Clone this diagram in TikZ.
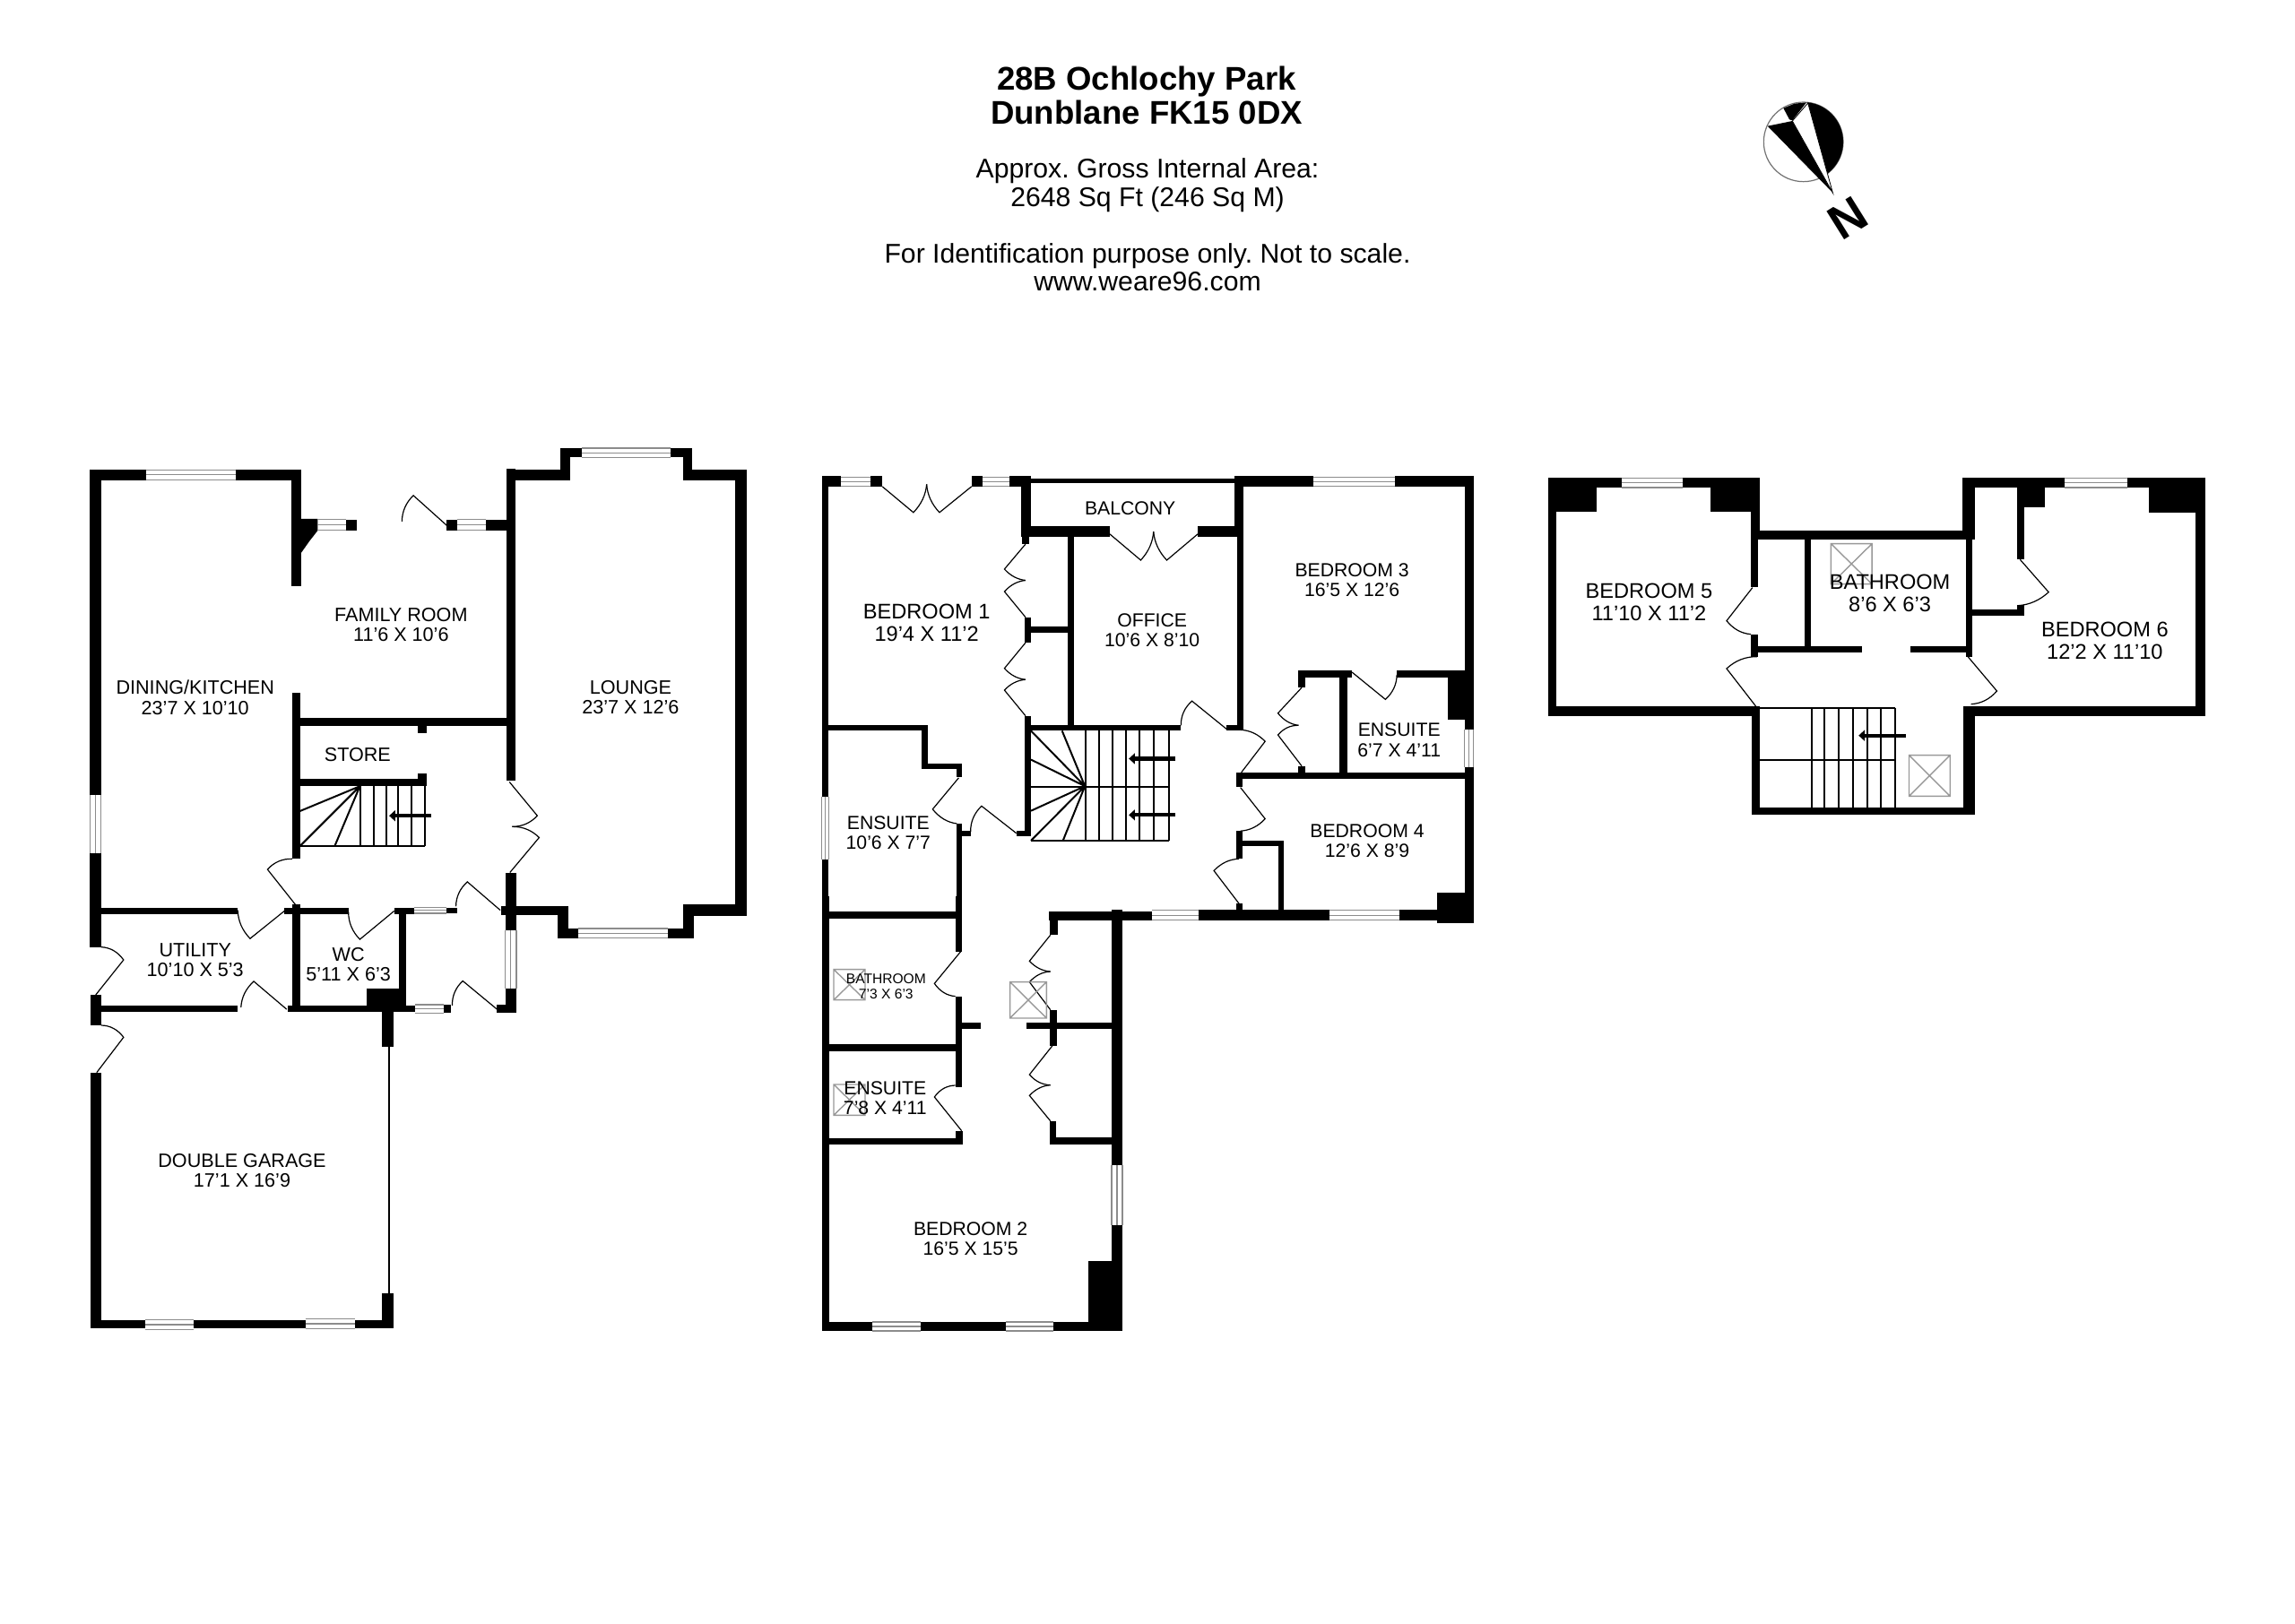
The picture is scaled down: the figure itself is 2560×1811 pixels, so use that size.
\documentclass[tikz,border=0pt]{standalone}
\usepackage{fontspec}
\setmainfont{Liberation Sans}
\usetikzlibrary{calc,arrows.meta}
\frenchspacing
\newcommand{\Wl}[2]{\fill[black] (#1) rectangle (#2);}
\newcommand{\Wh}[4]{\draw[winline] (#1,#2)--(#3,#2) (#1,{(#2+#4)/2})--(#3,{(#2+#4)/2}) (#1,#4)--(#3,#4);}
\newcommand{\Wv}[4]{\draw[winline] (#1,#2)--(#1,#4) ({(#1+#3)/2},#2)--({(#1+#3)/2},#4) (#3,#2)--(#3,#4);}
\newcommand{\Dr}[3]{\draw[doorline] (#1) -- (#2) .. controls ($0.7133*(#2)+0.38*(#3)-0.0933*(#1)$) and ($0.7133*(#3)+0.38*(#2)-0.0933*(#1)$) .. (#3);}
\newcommand{\Sky}[4]{\draw[skyline] (#1,#2) rectangle (#3,#4) (#1,#2)--(#3,#4) (#1,#4)--(#3,#2);}
\newcommand{\Lb}[4]{\node[#1] (#2) at (#3) {#4};}
\tikzset{
  winline/.style={line width=0.3pt,draw=black!45},
  doorline/.style={line width=0.3pt,draw=black},
  skyline/.style={line width=0.35pt,draw=black!40},
  treadline/.style={line width=0.5pt,draw=black},
  stairarrow/.style={line width=1.05pt,draw=black,-{Triangle[length=1.7pt,width=3pt]}},
  labbase/.style={inner sep=0pt,align=center,text=black,yshift=-0.3pt},
  labM/.style={labbase,font=\fontsize{5.4pt}{5.6pt}\selectfont},
  labN/.style={labbase,font=\fontsize{5.3pt}{5.6pt}\selectfont},
  labG/.style={labbase,font=\fontsize{5.4pt}{5.6pt}\selectfont},
  labL/.style={labbase,font=\fontsize{5.9pt}{6.25pt}\selectfont},
  labS/.style={labbase,font=\fontsize{3.9pt}{4.2pt}\selectfont},
  headbold/.style={inner sep=0pt,anchor=base,font=\fontsize{9.15pt}{9.5pt}\selectfont\bfseries},
  headtext/.style={inner sep=0pt,anchor=base,font=\fontsize{7.55pt}{8pt}\selectfont},
  zA/.style={shift={(80,480)},x=0.12755pt,y=-0.10841pt},
  zB/.style={shift={(80,1000)},x=0.08929pt,y=-0.08333pt},
  zC/.style={shift={(900,510)},x=0.12755pt,y=-0.08929pt},
  zD/.style={shift={(900,1000)},x=0.08333pt,y=-0.08333pt},
  zE/.style={shift={(1720,510)},x=0.12438pt,y=-0.08333pt},
  zF/.style={shift={(1960,100)},x=0.08333pt,y=-0.08333pt},
}
\begin{document}
\begin{tikzpicture}[x=0.25pt,y=-0.25pt]
\path[use as bounding box,fill=white] (0,0) rectangle (2560,1811);

% heading
\node[headbold] (title1) at (1279,100) {28B Ochlochy Park};
\node[headbold] (title2) at (1279,138) {Dunblane FK15 0DX};
\node[headtext] (area1) at (1280,198) {Approx. Gross Internal Area:};
\node[headtext] (area2) at (1280,230) {2648 Sq Ft (246 Sq M)};
\node[headtext] (note1) at (1280,293) {For Identification purpose only. Not to scale.};
\node[headtext] (note2) at (1280,324) {www.weare96.com};

% compass
\begin{scope}[zF]
\draw[line width=0.3pt,draw=black!55] (155,175) circle[radius=133];
\begin{scope}
\clip (158,0) -- (250,360) -- (420,360) -- (420,0) -- cycle;
\fill[black] (155,175) circle[radius=133];
\end{scope}
\fill[black] (88,62) -- (125,47) -- (165,43) -- (118,103) -- (108,100) -- cycle;
\fill[black] (35,122) -- (118,105) -- (253,345) -- cycle;
\filldraw[fill=white,draw=black,line width=0.2pt] (170,45) -- (253,345) -- (118,105) -- cycle;
\node[inner sep=0pt,rotate=32,font=\fontsize{13.5pt}{14pt}\selectfont\bfseries] (northN) at (305,430) {N};
\end{scope}

% ---------- ground floor, upper part
\begin{scope}[zA]
\Wl{40,102}{162,128}\Wh{162}{102}{358}{128}\Wl{358,102}{502,128}
\Wl{481,102}{502,402}
\Wl{40,102}{64,938}\Wv{40}{938}{64}{1088}\Wl{40,1088}{64,1330}
\fill[black] (502,228) -- (538,228) -- (538,258) -- (520,285) -- (502,315) -- cycle;
\Wh{538}{230}{600}{258}\Wl{600,230}{623,258}
\Wl{820,230}{842,258}\Wh{842}{230}{906}{258}\Wl{906,230}{950,258}
\Dr{820,245}{747,168}{722,235}
% lounge
\Wl{950,100}{970,902}
\Wl{950,102}{1090,128}\Wl{1068,46}{1090,128}\Wl{1068,46}{1115,70}
\Wh{1115}{46}{1310}{70}
\Wl{1310,46}{1356,70}\Wl{1336,46}{1356,128}\Wl{1336,102}{1476,128}
\Wl{1450,102}{1476,1250}\Wl{1336,1220}{1476,1250}\Wl{1336,1220}{1360,1307}
\Wl{1303,1282}{1360,1307}\Wh{1108}{1282}{1303}{1307}\Wl{1062,1282}{1108,1307}
\Wl{1062,1225}{1085,1307}\Wl{938,1225}{1085,1248}
\Wl{948,1140}{972,1287}\Wv{948}{1287}{972}{1437}\Wl{948,1437}{972,1500}\Wl{930,1477}{972,1500}
\Dr{957,905}{1018,992}{963,1020}
\Dr{958,1138}{1022,1048}{963,1020}
\Dr{937,1235}{865,1162}{840,1225}
% hall
\Wl{490,740}{950,760}\Wl{757,760}{777,780}
\Wl{482,676}{499,1103}
\Wl{490,898}{777,916}\Wl{757,884}{777,916}
\draw[treadline] (499,1070) -- (772,1070);
\foreach \xx in {632,660,687,714,742,772} \draw[treadline] (\xx,916) -- (\xx,1070);
\draw[treadline] (630,916) -- (499,980) (630,916) -- (499,1070) (630,916) -- (575,1070);
\draw[stairarrow] (786,992) -- (694,992);
\Dr{490,1222}{428,1130}{482,1103}
\Wl{64,1228}{363,1245}
\Dr{465,1237}{390,1308}{363,1235}
\Wl{465,1228}{605,1245}\Wl{482,1220}{499,1497}
\Dr{705,1237}{630,1310}{605,1240}
\Wl{705,1228}{748,1245}\Wh{748}{1228}{820}{1243}\Wl{820,1228}{843,1243}
\Wl{716,1228}{732,1480}\Wl{645,1437}{732,1497}
\Wl{472,1480}{750,1497}\Wh{750}{1478}{813}{1500}\Wl{813,1478}{830,1500}
\Dr{930,1490}{855,1417}{832,1480}
\Wl{64,1480}{363,1496}
\Dr{470,1490}{398,1418}{370,1485}
\Lb{labM}{lFamily}{720,498}{FAMILY ROOM\\11'6 X 10'6}
\Lb{labM}{lDining}{270,685}{DINING/KITCHEN\\23'7 X 10'10}
\Lb{labM}{lLounge}{1222,685}{LOUNGE\\23'7 X 12'6}
\Lb{labM}{lStore}{625,832}{STORE}
\Lb{labM}{lUtility}{270,1360}{UTILITY\\10'10 X 5'3}
\Lb{labM}{lWC}{605,1372}{WC\\5'11 X 6'3}
\end{scope}

% ---------- garage
\begin{scope}[zB]
\Dr{75,330}{162,213}{92,170}
\Wl{58,330}{92,432}
\Dr{78,590}{162,472}{92,432}
\Wl{58,590}{92,1447}
\Wl{58,1418}{230,1447}\Wh{230}{1418}{380}{1450}\Wl{380,1418}{730,1447}
\Wh{730}{1415}{885}{1447}\Wl{885,1418}{1005,1447}
\Wl{970,1328}{1005,1447}\Wl{970,385}{1005,503}
\draw[line width=0.5pt,draw=black] (990,503) -- (990,1328);
\Lb{labG}{lGarage}{532,914}{DOUBLE GARAGE\\17'1 X 16'9}
\end{scope}

% ---------- first floor, upper part
\begin{scope}[zC]
\Wl{33,60}{48,1060}\Wv{33}{1060}{48}{1258}\Wl{33,1258}{48,1500}
\Wl{33,60}{75,92}\Wh{75}{62}{140}{92}\Wl{140,60}{165,92}
\Dr{165,92}{233,173}{262,85}\Dr{360,92}{290,173}{262,85}
\Wl{360,60}{385,92}\Wh{385}{62}{443}{92}\Wl{443,60}{490,92}
\Wl{468,60}{490,248}\Wl{490,68}{935,82}\Wl{935,60}{955,248}
\Wl{935,60}{1108,92}\Wh{1108}{62}{1285}{92}\Wl{1285,60}{1458,92}
\Wl{1438,60}{1458,850}\Wv{1438}{850}{1458}{970}\Wl{1438,970}{1458,1455}
\Wl{468,215}{662,248}\Wl{855,215}{955,248}
\Dr{662,240}{730,322}{758,233}\Dr{855,240}{787,322}{758,233}
\Wl{470,248}{487,272}
\Dr{478,272}{432,350}{478,385}\Dr{478,500}{432,420}{478,385}
\Wl{476,500}{490,580}\Wl{490,530}{570,548}\Wl{570,248}{585,838}
\Dr{478,580}{432,660}{478,695}\Dr{478,808}{432,728}{478,695}
\Wl{476,808}{490,1185}\Wl{476,838}{818,855}
\Dr{918,850}{842,762}{818,838}
\Wl{918,838}{952,855}\Wl{940,248}{955,855}
\Dr{950,985}{1002,888}{948,852}
\Wl{938,985}{1458,1005}\Wl{938,985}{952,1030}
\Dr{948,1032}{1002,1130}{948,1168}
\Wl{938,1168}{952,1255}\Wl{952,1198}{1042,1215}\Wl{1030,1198}{1042,1415}
\Dr{945,1395}{890,1292}{945,1255}
\Wl{938,1395}{952,1415}
\Wl{530,1420}{755,1447}\Wh{755}{1415}{857}{1447}\Wl{857,1413}{1142,1447}
\Wh{1142}{1415}{1295}{1447}\Wl{1295,1413}{1458,1447}
\Wl{1378,1362}{1458,1455}
\Wl{532,1422}{548,1492}
% ensuite 6'7
\Wl{1075,665}{1192,690}\Wl{1075,665}{1090,720}
\Dr{1192,672}{1265,757}{1290,680}
\Wl{1290,665}{1458,690}\Wl{1402,665}{1458,820}
\Wl{1165,690}{1182,985}
\Dr{1082,720}{1030,800}{1075,838}\Dr{1082,965}{1030,868}{1075,838}
\Wl{1075,965}{1090,985}
% ensuite 10'6
\Wl{48,838}{265,855}\Wl{250,838}{265,970}\Wl{250,957}{340,973}\Wl{327,957}{340,1000}
\Dr{332,1002}{275,1100}{328,1145}
\Wl{327,1145}{340,1430}\Wl{340,1168}{358,1185}
\Dr{458,1175}{382,1090}{358,1170}
\Wl{458,1168}{490,1185}
% stairs
\foreach \xx in {610,638,668,698,728,758,792} \draw[treadline] (\xx,855) -- (\xx,1198);
\draw[treadline] (490,1030) -- (792,1030) (490,1198) -- (792,1198);
\draw[treadline] (608,1028) -- (490,855) (608,1028) -- (558,855) (608,1028) -- (490,945)
  (608,1028) -- (490,1105) (608,1028) -- (490,1198) (608,1028) -- (560,1198);
\draw[stairarrow] (806,942) -- (704,942);
\draw[stairarrow] (806,1118) -- (704,1118);
\Lb{labN}{lBalcony}{707,157}{BALCONY}
\Lb{labL}{lBed1}{262,515}{BEDROOM 1\\19'4 X 11'2}
\Lb{labN}{lOffice}{755,537}{OFFICE\\10'6 X 8'10}
\Lb{labN}{lBed3}{1192,380}{BEDROOM 3\\16'5 X 12'6}
\Lb{labN}{lEns67}{1295,880}{ENSUITE\\6'7 X 4'11}
\Lb{labN}{lEns106}{178,1170}{ENSUITE\\10'6 X 7'7}
\Lb{labN}{lBed4}{1225,1195}{BEDROOM 4\\12'6 X 8'9}
\end{scope}

% ---------- first floor, lower part
\begin{scope}[zD]
\Wl{50,0}{76,1455}\Wl{76,50}{497,76}\Wl{497,0}{520,185}
\Dr{515,185}{427,292}{497,335}
\Wl{497,335}{520,638}\Wl{520,424}{582,444}\Wl{76,495}{497,520}
\Dr{518,785}{427,672}{497,633}
\Wl{497,785}{522,830}\Wl{76,810}{522,832}
\Wl{812,55}{1020,80}\Wl{812,55}{837,130}
\Wl{1020,45}{1056,900}\Wv{1020}{900}{1056}{1102}\Wl{1020,1102}{1056,1455}
\fill[black] (942,1222) rectangle (1056,1455);
\Wl{50,1425}{220,1455}\Wh{220}{1425}{380}{1455}\Wl{380,1425}{665,1455}
\Wh{665}{1425}{825}{1455}\Wl{825,1425}{1056,1455}
\Dr{815,130}{745,217}{815,252}\Dr{815,380}{745,287}{815,252}
\Wl{812,380}{837,500}\Wl{735,424}{1020,445}
\Dr{822,500}{745,597}{815,632}\Dr{815,752}{745,667}{815,632}
\Wl{812,752}{835,832}\Wl{812,808}{1020,832}
\Sky{90}{245}{195}{347}\Sky{90}{630}{195}{733}\Sky{680}{287}{802}{408}
\Lb{labS}{lBath73}{265,298}{BATHROOM\\7'3 X 6'3}
\Lb{labN}{lEns78}{262,672}{ENSUITE\\7'8 X 4'11}
\Lb{labN}{lBed2}{548,1143}{BEDROOM 2\\16'5 X 15'5}
\end{scope}

% ---------- second floor
\begin{scope}[zE]
\Wl{15,70}{178,102}\Wh{178}{70}{315}{102}\Wl{315,70}{488,102}
\Wl{15,70}{122,182}\Wl{378,70}{488,182}
\Wl{15,70}{32,868}\Wl{15,835}{488,868}
\Wl{468,70}{488,275}\Wl{468,245}{970,275}\Wl{468,275}{484,435}
\Dr{472,437}{414,548}{468,593}
\Wl{468,593}{484,668}\Wl{484,633}{718,653}\Wl{826,633}{950,653}
\Dr{480,835}{414,708}{482,668}
\Wl{588,275}{603,640}
\Wl{942,70}{970,275}\Wl{942,70}{1172,102}\Wh{1172}{70}{1312}{102}\Wl{1312,70}{1487,102}
\Wl{1065,70}{1128,168}\Wl{1065,168}{1082,343}\Wl{1360,70}{1487,186}
\Wl{1465,70}{1487,868}\Wl{945,835}{1487,868}
\Wl{950,275}{965,668}\Wl{965,510}{1082,530}\Wl{1065,495}{1082,530}
\Dr{1072,343}{1136,452}{1068,497}
\Dr{955,668}{1020,783}{962,827}
\Wl{470,835}{488,1198}\Wl{945,835}{970,1198}\Wl{470,1172}{970,1198}
\foreach \xx in {604,634,665,697,729,760,792} \draw[treadline] (\xx,840) -- (\xx,1172);
\draw[treadline] (488,840) -- (792,840) (488,1014) -- (792,1014);
\draw[stairarrow] (816,932) -- (710,932);
\Sky{648}{290}{740}{425}\Sky{823}{998}{915}{1135}
\Lb{labL}{lBed5}{240,482}{BEDROOM 5\\11'10 X 11'2}
\Lb{labL}{lBath86}{780,453}{BATHROOM\\8'6 X 6'3}
\Lb{labL}{lBed6}{1262,612}{BEDROOM 6\\12'2 X 11'10}
\end{scope}
\end{tikzpicture}
\end{document}
